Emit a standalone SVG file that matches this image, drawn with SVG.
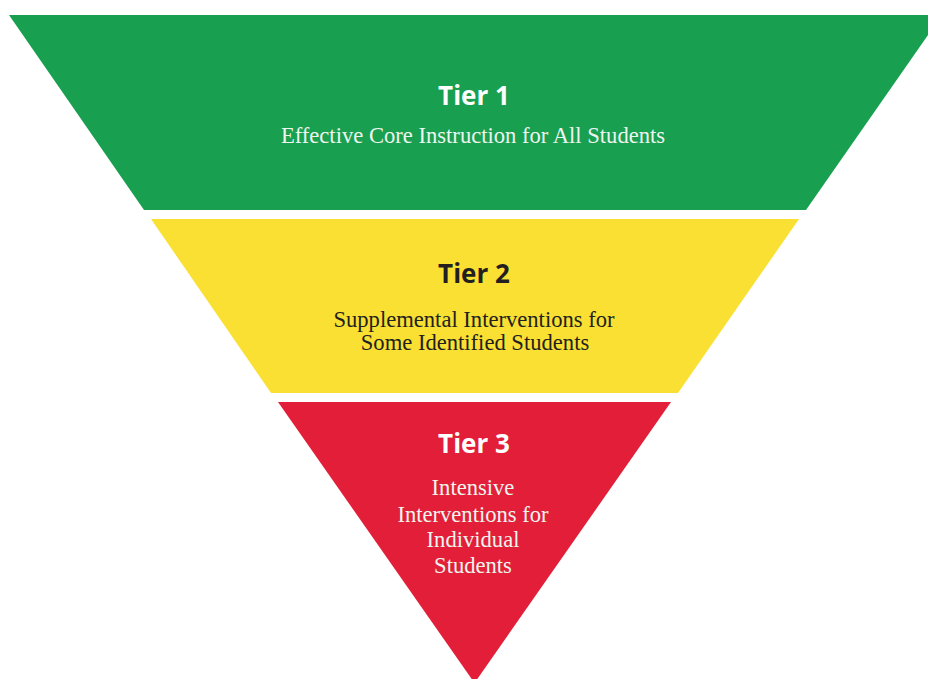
<svg xmlns="http://www.w3.org/2000/svg" width="928" height="679" viewBox="0 0 928 679">
<style>
.title{font-family:"Open Sans","Liberation Sans",sans-serif;font-weight:700;font-size:26px;text-anchor:middle}
.sub{font-family:"Liberation Serif","DejaVu Serif",serif;font-size:22.6px;text-anchor:middle}
.light{fill:#ffffff}
.lightsub{fill:#eef5ef}
.dark{fill:#231f20}
</style>
<rect width="928" height="679" fill="#ffffff"/>
<g id="tier1">
<polygon points="9,15 942,15 806,210 144,210" fill="#189f4f"/>
<text class="title light" x="474" y="105">Tier 1</text>
<text class="sub lightsub" x="473" y="143">Effective Core Instruction for All Students</text>
</g>
<g id="tier2">
<polygon points="151,219 799,219 678,393 271,393" fill="#fae032"/>
<text class="title dark" x="474" y="283">Tier 2</text>
<text class="sub dark" x="474" y="327">Supplemental Interventions for</text>
<text class="sub dark" x="475" y="350">Some Identified Students</text>
</g>
<g id="tier3">
<polygon points="278,402 671,402 474.5,683" fill="#e31e38"/>
<text class="title light" x="474" y="453">Tier 3</text>
<text class="sub lightsub" x="473" y="495">Intensive</text>
<text class="sub lightsub" x="473" y="522">Interventions for</text>
<text class="sub lightsub" x="473" y="547">Individual</text>
<text class="sub lightsub" x="473" y="573">Students</text>
</g>
</svg>
